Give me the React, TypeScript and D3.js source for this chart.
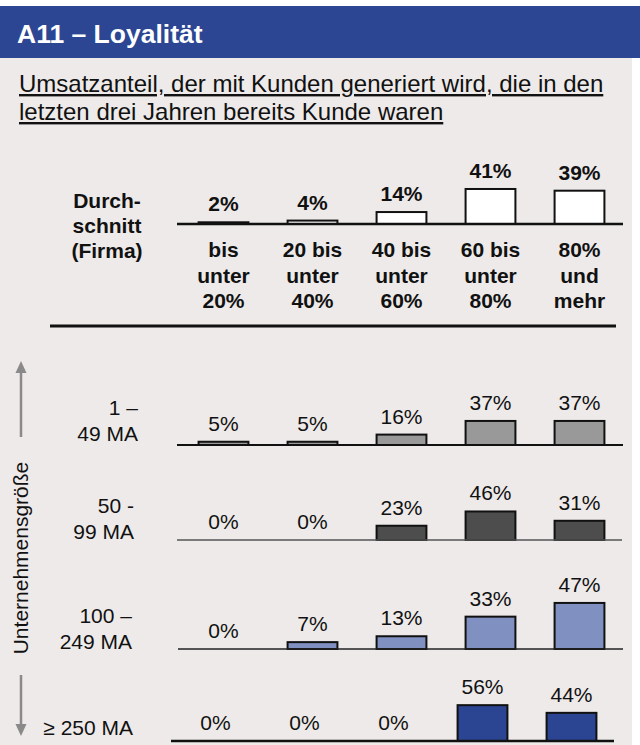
import React from "react";
import * as d3 from "d3";

const categories = ["bis unter 20%", "20 bis unter 40%", "40 bis unter 60%", "60 bis unter 80%", "80% und mehr"];
const categoryLines = [
  ["bis", "unter", "20%"],
  ["20 bis", "unter", "40%"],
  ["40 bis", "unter", "60%"],
  ["60 bis", "unter", "80%"],
  ["80%", "und", "mehr"],
];
const avgValues = [2, 4, 14, 41, 39];
const sizeClassLines = [["1 –", "49 MA"], ["50 -", "99 MA"], ["100 –", "249 MA"], ["≥ 250 MA"]];
const row1Values = [5, 5, 16, 37, 37];
const row2Values = [0, 0, 23, 46, 31];
const row3Values = [0, 7, 13, 33, 47];
const row4Values = [0, 0, 0, 56, 44];
const title = "A11 – Loyalität";
const subtitleLines = ["Umsatzanteil, der mit Kunden generiert wird, die in den", "letzten drei Jahren bereits Kunde waren"];
const avgLabelLines = ["Durch-", "schnitt", "(Firma)"];
const axisLabel = "Unternehmensgröße";

const FONT = "'Liberation Sans', Arial, Helvetica, sans-serif";
const BG = "#EDEAE9";
const BLUE = "#2C4693";

type Row = {
  values: number[];
  base: number;
  pxPer100: number;
  x0: number;
  x1: number;
  lineX0: number;
  lineX1: number;
  fill: string;
  lineColor: string;
  lineWidth: number;
  labelLines: string[];
  labelRight: number;
  labelBaselines: number[];
};

const rows: Row[] = [
  { values: row1Values, base: 445, pxPer100: 65, x0: 179, x1: 624, lineX0: 177, lineX1: 623, fill: "#999999", lineColor: "#111", lineWidth: 2.2, labelLines: sizeClassLines[0], labelRight: 138, labelBaselines: [415, 441] },
  { values: row2Values, base: 540, pxPer100: 62, x0: 179, x1: 624, lineX0: 177, lineX1: 622, fill: "#4D4D4D", lineColor: "#555", lineWidth: 1.6, labelLines: sizeClassLines[1], labelRight: 134, labelBaselines: [513, 539] },
  { values: row3Values, base: 649, pxPer100: 98, x0: 179, x1: 624, lineX0: 178, lineX1: 623, fill: "#8091C1", lineColor: "#222", lineWidth: 1.6, labelLines: sizeClassLines[2], labelRight: 132, labelBaselines: [623, 649] },
  { values: row4Values, base: 741, pxPer100: 64, x0: 171, x1: 616, lineX0: 171, lineX1: 614, fill: "#2B4592", lineColor: "#111", lineWidth: 2.5, labelLines: sizeClassLines[3], labelRight: 133, labelBaselines: [735] },
];

function BarRow({ values, base, pxPer100, x0, x1, lineX0, lineX1, fill, lineColor, lineWidth, bold }: any) {
  const x = d3.scaleBand<string>().domain(categories).range([x0, x1]).paddingInner(0.44).paddingOuter(0.22);
  const y = d3.scaleLinear().domain([0, 100]).range([base, base - pxPer100]);
  return (
    <g>
      {categories.map((c, i) => {
        const v = values[i];
        const top = y(v);
        const bx = x(c)!;
        return (
          <g key={c}>
            {v > 0 && (
              <rect x={bx} y={top} width={x.bandwidth()} height={base - top} fill={fill} stroke="#111" strokeWidth={2} />
            )}
            <text x={bx + x.bandwidth() / 2} y={top - 11} textAnchor="middle" fontSize={21} fontWeight={bold ? "bold" : "normal"} fill="#111">
              {v}%
            </text>
          </g>
        );
      })}
      <line x1={lineX0} x2={lineX1} y1={base} y2={base} stroke={lineColor} strokeWidth={lineWidth} />
    </g>
  );
}

export default function App() {
  const topX = d3.scaleBand<string>().domain(categories).range([179, 624]).paddingInner(0.44).paddingOuter(0.22);
  return (
    <svg width={640} height={745} style={{ position: "absolute", left: 0, top: 0, fontFamily: FONT }}>
      <rect x={0} y={0} width={640} height={745} fill="#ffffff" />
      <rect x={0} y={58} width={632} height={687} fill={BG} />
      <rect x={0} y={6} width={640} height={52} fill={BLUE} />
      <text x={17} y={43} fill="#fff" fontSize={26.5} fontWeight="bold">{title}</text>
      {subtitleLines.map((t, i) => (
        <text key={i} x={19} y={92 + i * 28} fontSize={24} fill="#111" textDecoration="underline">{t}</text>
      ))}

      {avgLabelLines.map((t, i) => (
        <text key={t} x={107} y={208 + i * 25} textAnchor="middle" fontSize={21} fontWeight="bold" fill="#111">{t}</text>
      ))}
      <BarRow values={avgValues} base={224} pxPer100={85.4} x0={179} x1={624} lineX0={177} lineX1={623} fill="#ffffff" lineColor="#111" lineWidth={2.5} bold />
      {categories.map((c, i) =>
        categoryLines[i].map((t, j) => (
          <text key={c + j} x={topX(c)! + topX.bandwidth() / 2} y={257 + j * 25.5} textAnchor="middle" fontSize={21} fontWeight="bold" fill="#111">{t}</text>
        ))
      )}
      <line x1={50} x2={616} y1={326} y2={326} stroke="#111" strokeWidth={3} />

      {rows.map((r, i) => (
        <g key={i}>
          {r.labelLines.map((t, j) => (
            <text key={t} x={r.labelRight} y={r.labelBaselines[j]} textAnchor="end" fontSize={21} fill="#111">{t}</text>
          ))}
          <BarRow {...r} bold={false} />
        </g>
      ))}

      <line x1={21} x2={21} y1={437} y2={372} stroke="#8A8A8A" strokeWidth={2.5} />
      <path d="M21,361 L15.5,373 L26.5,373 Z" fill="#8A8A8A" />
      <line x1={21} x2={21} y1={675} y2={725} stroke="#8A8A8A" strokeWidth={2.5} />
      <path d="M21,736 L15.5,724 L26.5,724 Z" fill="#8A8A8A" />
      <text transform="translate(28,558) rotate(-90)" textAnchor="middle" fontSize={21} fill="#111">{axisLabel}</text>
    </svg>
  );
}
